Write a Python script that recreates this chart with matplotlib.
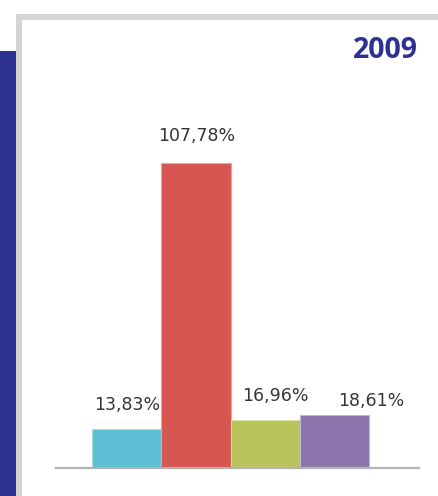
import matplotlib
matplotlib.use("Agg")
import matplotlib.pyplot as plt
from matplotlib.patches import Rectangle

# data
categories = ["A", "B", "C", "D"]
values = [13.83, 107.78, 16.96, 18.61]
labels = ["13,83%", "107,78%", "16,96%", "18,61%"]
year = "2009"

bar_colors = ["#5dbfd3", "#d85651", "#b9c45d", "#8c75ad"]
edge_colors = ["#a8dde8", "#eaa19e", "#dbe2a6", "#c3b6d6"]
# label offsets in pixels (dx, dy) from the bar top
label_dx = [1, 1, 10, 37]
label_dy = [24, 27, 24, 14]

W, H = 438, 496
fig = plt.figure(figsize=(W / 100, H / 100), dpi=100)
fig.patch.set_facecolor("white")

def px(x, y, w, h):
    # pixel box (top-left origin) -> figure fraction
    return (x / W, 1 - (y + h) / H, w / W, h / H)

# blue band on the left and grey frame
x0, y0, w0, h0 = px(0, 51, 16, H - 51)
fig.patches.append(Rectangle((x0, y0), w0, h0, transform=fig.transFigure,
                             facecolor="#2e3192", edgecolor="none", zorder=0))
x0, y0, w0, h0 = px(16, 14, 6, H - 14)
fig.patches.append(Rectangle((x0, y0), w0, h0, transform=fig.transFigure,
                             facecolor="#d4d4d4", edgecolor="none", zorder=0))
x0, y0, w0, h0 = px(16, 14, W - 16, 6)
fig.patches.append(Rectangle((x0, y0), w0, h0, transform=fig.transFigure,
                             facecolor="#d4d4d4", edgecolor="none", zorder=0))

fig.text(418 / W, 1 - 51 / H, year, ha="right", va="center",
         fontsize=20.5, fontweight="bold", color="#2e3192", family="Open Sans")

# bar axes
base = 467.7
scale = 2.83
ax = fig.add_axes(px(56, 20, 419 - 56, base - 20))
ax.set_xlim(-1.02, 4.22)
ax.set_ylim(0, (base - 20) / scale)
ax.patch.set_alpha(0)

xs = list(range(len(categories)))
bars = ax.bar(xs, values, width=1.0, color=bar_colors, edgecolor=edge_colors,
              linewidth=0.8, zorder=2)

for b, lab, dx, dy in zip(bars, labels, label_dx, label_dy):
    ax.annotate(lab, (b.get_x() + b.get_width() / 2, b.get_height()),
                xytext=(dx, dy), textcoords="offset pixels",
                ha="center", va="center", fontsize=12.5, color="#353535")

for s in ["top", "right", "left"]:
    ax.spines[s].set_visible(False)
ax.spines["bottom"].set_color("#b3b3b3")
ax.spines["bottom"].set_linewidth(1.6)
ax.set_xticks([])
ax.set_yticks([])

fig.savefig("out.png", dpi=100)
